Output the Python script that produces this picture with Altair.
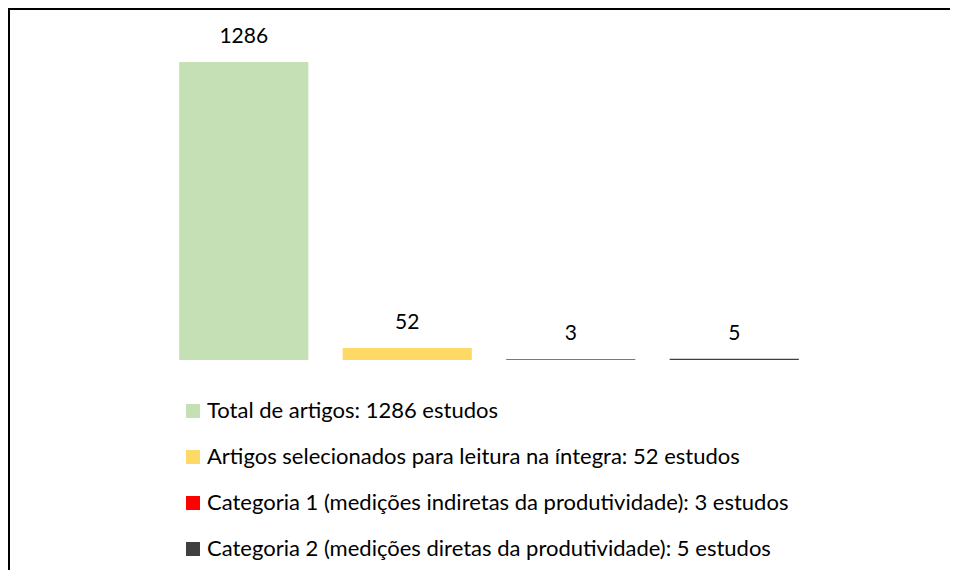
import altair as alt
import pandas as pd

categories = ["Total", "Selecionados", "Categoria 1", "Categoria 2"]
values = [1286, 52, 3, 5]
legend_labels = [
    "Total de artigos: 1286 estudos",
    "Artigos selecionados para leitura na íntegra: 52 estudos",
    "Categoria 1 (medições indiretas da produtividade): 3 estudos",
    "Categoria 2 (medições diretas da produtividade): 5 estudos",
]
colors = ["#C5E0B4", "#FFD966", "#FF0000", "#404040"]

df = pd.DataFrame({"cat": categories, "value": values, "legend": legend_labels})

FONT = "Lato"
W, H = 942, 562

x = alt.X("cat:N", sort=categories, axis=None,
          scale=alt.Scale(range=[154, 808], paddingInner=0.21, paddingOuter=0.105))
y = alt.Y("value:Q", axis=None,
          scale=alt.Scale(domain=[0, 1286], range=[352, 54], nice=False))

bars = alt.Chart(df).mark_bar().encode(
    x=x, y=y,
    color=alt.Color("legend:N", sort=legend_labels,
                    scale=alt.Scale(domain=legend_labels, range=colors),
                    legend=alt.Legend(title=None, orient="none", legendX=174, legendY=392,
                                      direction="vertical", symbolType="square",
                                      symbolSize=196, symbolStrokeWidth=0,
                                      labelFont=FONT, labelFontSize=22, labelColor="#000000",
                                      labelLimit=1000, labelOffset=3, rowPadding=24)),
)

labels = alt.Chart(df).mark_text(dy=-25, baseline="middle", align="center",
                                 font=FONT, fontSize=21, color="#000000").encode(
    x=x, y=y, text="value:Q"
)

frame_data = pd.DataFrame({"k": [0]})
top_line = alt.Chart(frame_data).mark_rect(color="#000000").encode(
    x=alt.value(0), x2=alt.value(W), y=alt.value(0), y2=alt.value(2)
)
left_line = alt.Chart(frame_data).mark_rect(color="#000000").encode(
    x=alt.value(0), x2=alt.value(2), y=alt.value(0), y2=alt.value(H)
)

chart = alt.layer(bars, labels, top_line, left_line).properties(
    width=W, height=H, padding=0, autosize=alt.AutoSizeParams(type="none")
).configure_view(strokeWidth=0, stroke="transparent").configure(background="#FFFFFF")

chart.save("out.html", embed_options={"renderer": "svg", "actions": False})
